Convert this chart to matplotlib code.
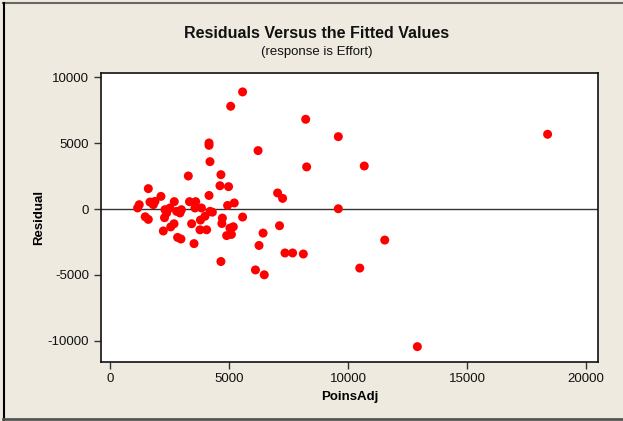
import matplotlib.pyplot as plt
from matplotlib.lines import Line2D

# fitted values (PoinsAdj) and residuals
poins_adj = [5570, 5070, 8220, 4160, 4160, 6220, 4200, 8260, 3290, 4660,
             1610, 4620, 4980, 2140, 7040, 7250, 4160, 1680, 1890, 1820,
             2700, 1230, 1160, 3340, 3600, 2310, 2520, 2380, 2800, 3000,
             2940, 3570, 3840, 4200, 4300, 3990, 3800, 4940, 5220, 5570,
             4720, 4700, 5040, 5180, 4900, 5100, 1480, 1610, 2290, 2690,
             2550, 3430, 2240, 3780, 4060, 2840, 2980, 3530, 4660, 6430,
             6260, 7120, 7350, 7670, 8120, 6110, 6480, 9590, 10680, 18380,
             9590, 11540, 10490, 12910]
residual = [8900, 7810, 6820, 5020, 4840, 4440, 3600, 3200, 2510, 2610,
            1550, 1770, 1700, 960, 1220, 810, 1030, 530, 580, 330,
            560, 330, 80, 560, 560, -50, 80, -300, -180, -50,
            -300, 80, 80, -180, -240, -550, -840, 270, 460, -610,
            -690, -1100, -1450, -1350, -2020, -1930, -590, -790, -660, -1120,
            -1360, -1120, -1670, -1580, -1580, -2160, -2280, -2630, -3990, -1830,
            -2770, -1270, -3340, -3340, -3420, -4630, -5000, 5500, 3270, 5680,
            20, -2360, -4490, -10460]

x_ticks = [0, 5000, 10000, 15000, 20000]
y_ticks = [-10000, -5000, 0, 5000, 10000]

bg = "#EEEAE0"
plt.rcParams["font.family"] = ["Liberation Sans", "DejaVu Sans"]
plt.rcParams["axes.unicode_minus"] = False

fig = plt.figure(figsize=(6.23, 4.21), dpi=100, facecolor=bg)
ax = fig.add_axes([0.162, 0.141, 0.798, 0.686])
ax.set_facecolor("white")

ax.axhline(0, color="#333333", lw=1.0, zorder=1)
ax.scatter(poins_adj, residual, s=42, color="#FF0000", edgecolors="none", zorder=3)

ax.set_xlim(-380, 20500)
ax.set_ylim(-11600, 10350)
ax.set_xticks(x_ticks)
ax.set_yticks(y_ticks)
ax.tick_params(direction="out", length=5, width=1, colors="#333333",
               labelcolor="#111111", labelsize=9.5, top=False, right=False)
for sp in ax.spines.values():
    sp.set_color("#111111")
    sp.set_linewidth(1.2)

ax.set_xlabel("PoinsAdj", fontsize=9.5, fontweight="bold", labelpad=4)
ax.set_ylabel("Residual", fontsize=9.5, fontweight="bold", labelpad=2)

fig.text(0.508, 0.921, "Residuals Versus the Fitted Values", ha="center",
         va="center", fontsize=11.5, fontweight="bold", color="#111111")
fig.text(0.508, 0.876, "(response is Effort)", ha="center", va="center",
         fontsize=9.5, color="#111111")

# window frame lines
fig.add_artist(Line2D([0.005, 1.0], [0.994, 0.994], color="#666666", lw=1.5))
fig.add_artist(Line2D([0.006, 0.006], [0.0, 0.994], color="#000000", lw=1.5))
fig.add_artist(Line2D([0.005, 1.0], [0.004, 0.004], color="#555555", lw=2))

fig.savefig("out.png", dpi=100, facecolor=bg)
